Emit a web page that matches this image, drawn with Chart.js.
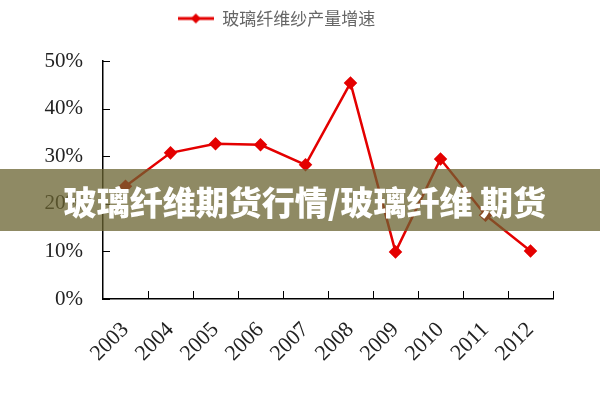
<!DOCTYPE html>
<html lang="zh">
  <head>
    <meta charset="utf-8">
    <title>玻璃纤维纱产量增速</title>
    <style>
      body {padding: 0; margin: 0; background: #fff;}
      #wrap {position: relative; width: 600px; height: 400px;}
      #banner {
        position: absolute; left: 0; top: 169px; width: 600px; height: 62px;
        background: rgba(105, 99, 48, 0.75);
        color: #fff; font-family: "Noto Sans CJK SC", sans-serif; font-weight: 900;
        font-size: 33px; line-height: 64px; text-align: center; padding-left: 10px; box-sizing: border-box;
        white-space: nowrap;
      }
    </style>
    <script src="https://cdn.jsdelivr.net/npm/chart.js@4.4.0/dist/chart.umd.min.js"></script>
  </head>
  <body>
    <div id="wrap">
      <canvas id="growthChart" width="600" height="400"></canvas>
      <div id="banner">玻璃纤维期货行情/玻璃纤维 期货</div>
    </div>
    <script>
      // data
      var years = ['2003', '2004', '2005', '2006', '2007', '2008', '2009', '2010', '2011', '2012'];
      var growth = [23.7, 30.7, 32.6, 32.4, 28.2, 45.4, 9.9, 29.4, 17.6, 10.1];
      var seriesName = '玻璃纤维纱产量增速';
      var yTicks = [0, 10, 20, 30, 40, 50];

      var red = 'rgb(228, 0, 0)';

      // little legend symbol: line with a diamond on it
      var sym = document.createElement('canvas');
      sym.width = 36; sym.height = 12;
      var sc = sym.getContext('2d');
      sc.strokeStyle = red; sc.lineWidth = 3;
      sc.beginPath(); sc.moveTo(0, 6); sc.lineTo(36, 6); sc.stroke();
      sc.fillStyle = red;
      sc.beginPath(); sc.moveTo(18, 1); sc.lineTo(23, 6); sc.lineTo(18, 11); sc.lineTo(13, 6); sc.closePath(); sc.fill();

      // inward tick marks + taller legend block
      var axisTicks = {
        id: 'axisTicks',
        beforeUpdate: function(chart) {
          if (chart.legend && !chart.legend._patched) {
            var fit = chart.legend.fit;
            chart.legend.fit = function() {
              fit.call(this);
              this.height = 61;
            };
            chart.legend._patched = true;
          }
        },
        afterDraw: function(chart) {
          var ctx = chart.ctx;
          var area = chart.chartArea;
          var y = chart.scales.y;
          ctx.save();
          ctx.strokeStyle = '#000';
          ctx.lineWidth = 1;
          ctx.beginPath();
          for (var i = 0; i < y.ticks.length; i++) {
            var py = Math.round(y.getPixelForTick(i)) + 0.5;
            ctx.moveTo(area.left, py);
            ctx.lineTo(area.left + 7, py);
          }
          var step = (area.right - area.left) / years.length;
          for (var j = 1; j <= years.length; j++) {
            var px = Math.round(area.left + j * step) + 0.5;
            ctx.moveTo(px, area.bottom);
            ctx.lineTo(px, area.bottom - 8);
          }
          ctx.stroke();
          ctx.restore();
        }
      };

      var ctx = document.getElementById('growthChart').getContext('2d');
      var myChart = new Chart(ctx, {
        type: 'line',
        data: {
          labels: years,
          datasets: [{
            label: seriesName,
            data: growth,
            borderColor: red,
            backgroundColor: red,
            borderWidth: 2.5,
            pointStyle: 'rectRot',
            pointRadius: 5,
            pointHoverRadius: 5,
            tension: 0
          }]
        },
        options: {
          responsive: false,
          animation: false,
          layout: {padding: {left: 0, right: 47, top: 0, bottom: 0}},
          plugins: {
            tooltip: {enabled: false},
            legend: {
              position: 'top',
              labels: {
                usePointStyle: true,
                pointStyleWidth: 36,
                padding: 10,
                color: '#666',
                font: {family: '"Noto Sans CJK SC", sans-serif', size: 17},
                generateLabels: function(chart) {
                  return [{text: seriesName, pointStyle: sym, fontColor: '#666', datasetIndex: 0, lineWidth: 0}];
                }
              }
            }
          },
          scales: {
            x: {
              offset: true,
              grid: {display: true, drawOnChartArea: false, drawTicks: false, offset: true},
              border: {display: true, color: '#000', width: 1.5},
              ticks: {
                color: '#222',
                padding: 18,
                minRotation: 45,
                maxRotation: 45,
                font: {family: '"Liberation Serif", serif', size: 22}
              },
              afterFit: function(s) { s.height = 101; }
            },
            y: {
              min: 0,
              max: 50,
              afterBuildTicks: function(s) { s.ticks = yTicks.map(function(v) { return {value: v}; }); },
              grid: {display: true, drawOnChartArea: false, drawTicks: false},
              border: {display: true, color: '#000', width: 1.5},
              ticks: {
                color: '#222',
                padding: 20,
                font: {family: '"Liberation Serif", serif', size: 21},
                callback: function(v) { return v + '%'; }
              },
              afterFit: function(s) { s.width = 103; }
            }
          }
        },
        plugins: [axisTicks]
      });
    </script>
  </body>
</html>
